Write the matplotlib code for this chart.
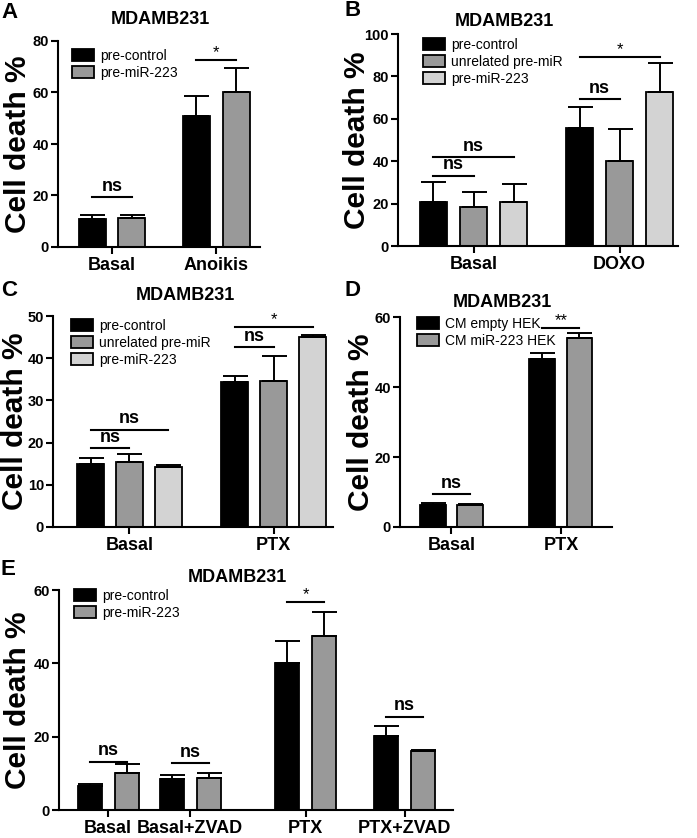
import numpy as np
import matplotlib.pyplot as plt

plt.rcParams['font.family'] = ['Liberation Sans', 'DejaVu Sans']

W, H = 697, 838
BLACK, GRAY, LIGHT = '#000000', '#999999', '#d3d3d3'

# ---- data ----
a_groups = ['Basal', 'Anoikis']
a_series = ['pre-control', 'pre-miR-223']
a_mean = [[11.0, 50.8], [11.2, 60.3]]
a_err = [[1.4, 7.8], [1.4, 9.2]]
a_sig = [((0, 0), (1, 0), 19.5, 'ns'), ((0, 1), (1, 1), 72.5, '*')]

b_groups = ['Basal', 'DOXO']
b_series = ['pre-control', 'unrelated pre-miR', 'pre-miR-223']
b_mean = [[20.9, 55.7], [18.2, 40.1], [20.6, 72.5]]
b_err = [[9.4, 9.7], [7.1, 15.1], [8.5, 14.0]]
b_sig = [((0, 0), (2, 0), 42.1, 'ns'), ((0, 0), (1, 0), 33.2, 'ns'),
         ((0, 1), (1, 1), 69.2, 'ns'), ((0, 1), (2, 1), 89.3, '*')]

c_groups = ['Basal', 'PTX']
c_series = ['pre-control', 'unrelated pre-miR', 'pre-miR-223']
c_mean = [[14.9, 34.4], [15.5, 34.6], [14.1, 45.0]]
c_err = [[1.5, 1.5], [1.9, 5.9], [0.5, 0.6]]
c_sig = [((0, 0), (2, 0), 23.1, 'ns'), ((0, 0), (1, 0), 18.7, 'ns'),
         ((0, 1), (1, 1), 42.7, 'ns'), ((0, 1), (2, 1), 47.4, '*')]

d_groups = ['Basal', 'PTX']
d_series = ['CM empty HEK', 'CM miR-223 HEK']
d_mean = [[6.2, 48.1], [6.2, 54.0]]
d_err = [[0.8, 1.6], [0.5, 1.5]]
d_sig = [((0, 0), (1, 0), 9.5, 'ns'), ((0, 1), (1, 1), 56.9, '**')]

e_groups = ['Basal', 'Basal+ZVAD', 'PTX', 'PTX+ZVAD']
e_series = ['pre-control', 'pre-miR-223']
e_mean = [[6.6, 8.4, 40.2, 20.3], [10.0, 8.8, 47.5, 16.1]]
e_err = [[0.5, 1.1, 6.0, 2.7], [2.5, 1.2, 6.6, 0.2]]
e_sig = [((0, 0), (1, 0), 13.2, 'ns'), ((0, 1), (1, 1), 12.9, 'ns'),
         ((0, 2), (1, 2), 56.6, '*'), ((0, 3), (1, 3), 25.5, 'ns')]

fig = plt.figure(figsize=(W / 100, H / 100), dpi=100)


def panel(box, letter, letter_xy, title_xy, groups, centers, series, means, errs,
          colors, ymax, ystep, width, off, xlim, sigs, leg_xy, label_x):
    left, right, top, bottom = box
    ax = fig.add_axes([left / W, 1 - bottom / H, (right - left) / W, (bottom - top) / H])
    n = len(series)
    xpos = {}
    for i in range(n):
        xs = np.array(centers) + (i - (n - 1) / 2) * off
        for g, x in enumerate(xs):
            xpos[(i, g)] = x
        ax.bar(xs, means[i], width, color=colors[i], edgecolor='black',
               linewidth=1.3, label=series[i], zorder=2)
        ax.errorbar(xs, means[i], yerr=[np.zeros(len(xs)), errs[i]], fmt='none',
                    ecolor='black', elinewidth=1.4, capsize=9, capthick=1.4, zorder=3)
    for a, b, y, lab in sigs:
        x1, x2 = xpos[a], xpos[b]
        ax.plot([x1, x2], [y, y], color='black', lw=1.5, zorder=4)
        if lab == 'ns':
            ax.text((x1 + x2) / 2, y + ymax * 0.01, lab, ha='center', va='bottom',
                    fontsize=13, fontweight='bold')
        else:
            ax.text((x1 + x2) / 2, y, lab, ha='center', va='bottom', fontsize=12)
    ax.set_xlim(*xlim)
    ax.set_ylim(0, ymax)
    ax.set_yticks(np.arange(0, ymax + 0.1, ystep))
    ax.set_xticks(centers)
    ax.set_xticklabels(groups, fontsize=13, fontweight='bold')
    for t in ax.get_yticklabels():
        t.set_fontweight('bold')
        t.set_fontsize(10.5)
    ax.tick_params(width=1.5, length=5, pad=2)
    ax.tick_params(axis='y', pad=1.5)
    for s in ['top', 'right']:
        ax.spines[s].set_visible(False)
    for s in ['left', 'bottom']:
        ax.spines[s].set_linewidth(1.5)
    ax.set_ylabel('Cell death %', fontsize=21.5, fontweight='bold')
    ax.yaxis.set_label_coords((label_x - left) / (right - left), 0.5)
    fx = (leg_xy[0] - left) / (right - left)
    fy = (bottom - leg_xy[1]) / (bottom - top)
    ax.legend(loc='upper left', bbox_to_anchor=(fx, fy), frameon=False,
              borderpad=0, borderaxespad=0, handlelength=1.6, handleheight=0.9,
              handletextpad=0.4, labelspacing=0.2, fontsize=10)
    fig.text(title_xy[0] / W, 1 - title_xy[1] / H, 'MDAMB231', ha='center',
             va='center', fontsize=13, fontweight='bold')
    fig.text(letter_xy[0] / W, 1 - letter_xy[1] / H, letter, ha='center',
             va='center', fontsize=16, fontweight='bold')
    return ax


panel((58, 260, 41, 247), 'A', (10, 13), (160, 19), a_groups, [0, 1], a_series,
      a_mean, a_err, [BLACK, GRAY], 80, 20, 0.26, 0.38, (-0.52, 1.42), a_sig, (72, 49), 32)
panel((398, 678, 34, 246), 'B', (353, 11), (504, 21), b_groups, [0, 1], b_series,
      b_mean, b_err, [BLACK, GRAY, LIGHT], 100, 20, 0.185, 0.274, (-0.517, 1.40),
      b_sig, (423, 38), 371)
panel((53, 333, 316, 527), 'C', (9, 290), (185, 296), c_groups, [0, 1], c_series,
      c_mean, c_err, [BLACK, GRAY, LIGHT], 50, 10, 0.187, 0.27, (-0.53, 1.41),
      c_sig, (71, 319), 29)
panel((400, 612, 317, 527), 'D', (353, 290), (502, 302), d_groups, [0, 1], d_series,
      d_mean, d_err, [BLACK, GRAY], 60, 20, 0.237, 0.338, (-0.47, 1.466), d_sig,
      (417, 317), 375)
panel((59, 453, 590, 810), 'E', (8, 569), (237, 577), e_groups,
      [0.49, 1.31, 2.465, 3.455], e_series, e_mean, e_err, [BLACK, GRAY], 60, 20,
      0.24, 0.37, (0, 3.94), e_sig, (74, 589), 32)

fig.savefig('out.png', dpi=100)
